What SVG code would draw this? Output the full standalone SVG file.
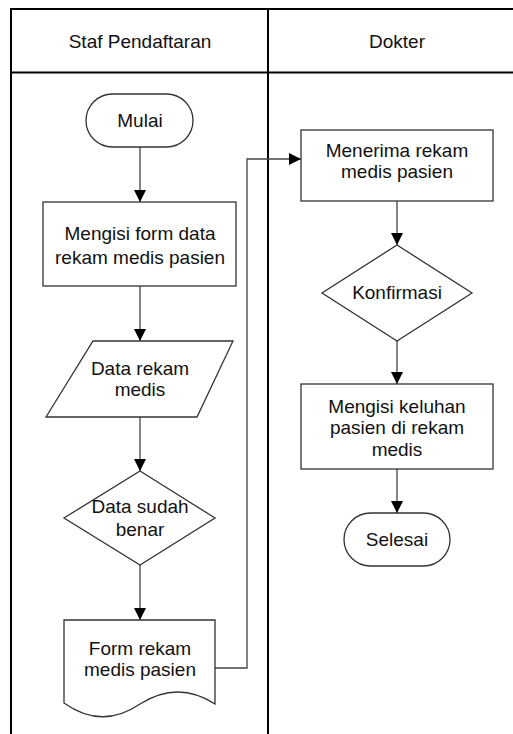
<svg xmlns="http://www.w3.org/2000/svg" width="513" height="734" viewBox="0 0 513 734">
<defs>
<marker id="arr" markerWidth="12" markerHeight="12" refX="12" refY="6" orient="auto" markerUnits="userSpaceOnUse">
<path d="M0,0 L12,6 L0,12 Z" fill="#000"/>
</marker>
<style>
.lane{fill:none;stroke:#000;stroke-width:2}
.node{fill:#fff;stroke:#333;stroke-width:1.3}
.edge{fill:none;stroke:#444;stroke-width:1.3;marker-end:url(#arr)}
text{font-family:"Liberation Sans",Arial,sans-serif;font-size:19px;fill:#111;text-anchor:middle}
</style>
</defs>
<rect width="513" height="734" fill="#fff"/>
<g id="lanes">
<path class="lane" d="M11,734 V9 H513 M11,72.5 H513 M268,9 V734"/>
<text x="140" y="48">Staf Pendaftaran</text>
<text x="397" y="48">Dokter</text>
</g>
<g id="connectors">
<path class="edge" d="M140,147 V202"/>
<path class="edge" d="M140,286 V341"/>
<path class="edge" d="M140,417 V471"/>
<path class="edge" d="M140,565 V620"/>
<path class="edge" d="M215,668 H247 V159 H301"/>
<path class="edge" d="M397,201 V245"/>
<path class="edge" d="M397,341 V384"/>
<path class="edge" d="M397,469 V513"/>
</g>
<g id="mulai">
<rect class="node" x="86" y="94" width="107" height="53" rx="26.5"/>
<text x="140" y="127">Mulai</text>
</g>
<g id="mengisi-form">
<rect class="node" x="43" y="202" width="193" height="84"/>
<text x="140" y="240">Mengisi form data</text>
<text x="140" y="264">rekam medis pasien</text>
</g>
<g id="data-rekam">
<path class="node" d="M93,341 H233 L197,417 H46 Z"/>
<text x="140" y="375">Data rekam</text>
<text x="140" y="396">medis</text>
</g>
<g id="data-sudah-benar">
<path class="node" d="M140,471 L215,518 L140,565 L64,518 Z"/>
<text x="140" y="513">Data sudah</text>
<text x="140" y="536">benar</text>
</g>
<g id="form-rekam">
<path class="node" d="M64,620 H215 V704 Q178,680 140,704 Q102,730 64,703 Z"/>
<text x="140" y="655">Form rekam</text>
<text x="140" y="676">medis pasien</text>
</g>
<g id="menerima">
<rect class="node" x="301" y="130" width="192" height="71"/>
<text x="397" y="157">Menerima rekam</text>
<text x="397" y="178">medis pasien</text>
</g>
<g id="konfirmasi">
<path class="node" d="M397,245 L472,293 L397,341 L322,293 Z"/>
<text x="397" y="299">Konfirmasi</text>
</g>
<g id="mengisi-keluhan">
<rect class="node" x="301" y="384" width="192" height="85"/>
<text x="397" y="413">Mengisi keluhan</text>
<text x="397" y="434">pasien di rekam</text>
<text x="397" y="456">medis</text>
</g>
<g id="selesai">
<rect class="node" x="344" y="513" width="106" height="53" rx="26.5"/>
<text x="397" y="546">Selesai</text>
</g>
</svg>
